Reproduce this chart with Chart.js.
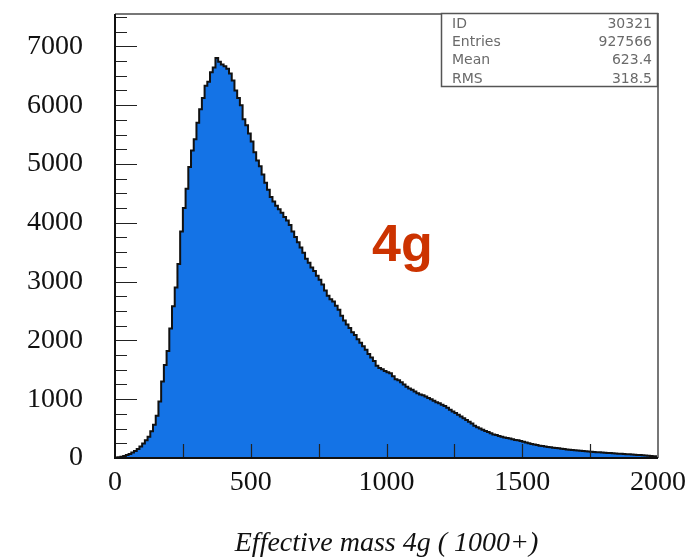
<!DOCTYPE html>
<html>
<head>
<meta charset="utf-8">
<script src="https://cdn.jsdelivr.net/npm/chart.js@4.4.1/dist/chart.umd.min.js"></script>
<style>
  html, body { margin: 0; padding: 0; background: #fff; }
  #wrap { width: 700px; height: 558px; }
</style>
</head>
<body>
<div id="wrap"><canvas id="ch"></canvas></div>
<script>
// histogram: 200 bins of width 10 from 0 to 2000
const binStart = 0;
const binWidth = 10;
const counts = [
  4, 8, 14, 22, 34, 50, 70, 95, 120, 155, 195, 245, 300, 360, 455, 565, 720, 960, 1300, 1580,
  1820, 2200, 2580, 2900, 3300, 3850, 4250, 4580, 4950, 5230, 5420, 5700, 5930, 6120, 6330, 6400, 6560, 6640, 6800, 6740,
  6690, 6660, 6620, 6540, 6420, 6250, 6120, 6000, 5760, 5660, 5520, 5380, 5200, 5060, 4960, 4820, 4680, 4560, 4440, 4360,
  4290, 4230, 4170, 4100, 4040, 3960, 3850, 3760, 3670, 3580, 3490, 3390, 3320, 3240, 3180, 3100, 3030, 2950, 2850, 2760,
  2700, 2660, 2590, 2520, 2420, 2340, 2270, 2210, 2140, 2090, 2020, 1960, 1900, 1840, 1770, 1710, 1650, 1570, 1530, 1510,
  1480, 1460, 1440, 1390, 1340, 1320, 1290, 1250, 1210, 1180, 1160, 1130, 1100, 1080, 1065, 1045, 1020, 1000, 975, 950,
  930, 905, 885, 855, 820, 790, 765, 735, 705, 675, 645, 615, 585, 550, 525, 500, 480, 460, 440, 420,
  400, 390, 375, 360, 350, 340, 330, 318, 308, 300, 290, 278, 262, 252, 240, 228, 220, 210, 202, 195,
  188, 182, 176, 170, 164, 158, 152, 146, 140, 136, 131, 127, 122, 118, 113, 110, 106, 103, 99, 96,
  92, 89, 86, 83, 80, 77, 74, 71, 68, 65, 62, 59, 56, 53, 50, 46, 42, 38, 34, 30
];

const xTicks = [0, 500, 1000, 1500, 2000];
const yTicks = [0, 1000, 2000, 3000, 4000, 5000, 6000, 7000];
const xMax = 2000;
const yMax = 7550;

const statLabels = ['ID', 'Entries', 'Mean', 'RMS'];
const statValues = ['30321', '927566', '623.4', '318.5'];
const tagText = '4g';
const xTitle = 'Effective mass 4g ( 1000+)';

const points = counts.map((c, i) => ({ x: binStart + i * binWidth, y: c }));
points.push({ x: binStart + counts.length * binWidth, y: counts[counts.length - 1] });

// frame, inner ticks, stats box and the "4g" tag
const decor = {
  id: 'decor',
  afterDraw(chart) {
    const { ctx, chartArea: a, scales: { x, y } } = chart;
    ctx.save();

    ctx.strokeStyle = '#222';
    ctx.lineWidth = 1.2;
    ctx.beginPath();
    for (let v = 250; v < yMax; v += 250) {
      const py = Math.round(y.getPixelForValue(v)) + 0.5;
      const len = v % 1000 === 0 ? 22 : 12;
      ctx.moveTo(a.left, py); ctx.lineTo(a.left + len, py);
    }
    for (let v = 250; v < xMax; v += 250) {
      const px = Math.round(x.getPixelForValue(v)) + 0.5;
      ctx.moveTo(px, a.bottom); ctx.lineTo(px, a.bottom - 14);
    }
    ctx.stroke();

    // frame
    ctx.strokeStyle = '#777';
    ctx.lineWidth = 2;
    ctx.beginPath();
    ctx.moveTo(a.left, a.top); ctx.lineTo(a.right, a.top); ctx.lineTo(a.right, a.bottom);
    ctx.stroke();
    ctx.strokeStyle = '#111';
    ctx.beginPath();
    ctx.moveTo(a.left, a.top); ctx.lineTo(a.left, a.bottom); ctx.lineTo(a.right, a.bottom);
    ctx.stroke();

    // stats box
    const bx = 441, by = 13, bw = 216, bh = 73;
    ctx.fillStyle = '#fff';
    ctx.fillRect(bx, by, bw, bh);
    ctx.strokeStyle = '#555';
    ctx.lineWidth = 1.5;
    ctx.strokeRect(bx + 0.5, by + 0.5, bw, bh);
    ctx.font = '14px "DejaVu Sans", sans-serif';
    ctx.fillStyle = '#6a6a6a';
    ctx.textBaseline = 'middle';
    statLabels.forEach((lab, i) => {
      const ry = by + 11 + i * 18.4;
      ctx.textAlign = 'left';
      ctx.fillText(lab, bx + 11, ry);
      ctx.textAlign = 'right';
      ctx.fillText(statValues[i], bx + bw - 5, ry);
    });

    // tag
    ctx.font = 'bold 52px "Liberation Sans", Arial, sans-serif';
    ctx.fillStyle = '#cc3300';
    ctx.textAlign = 'left';
    ctx.textBaseline = 'alphabetic';
    ctx.fillText(tagText, 372, 261);

    ctx.restore();
  }
};

const serif = '"Liberation Serif", "Times New Roman", serif';

new Chart(document.getElementById('ch'), {
  type: 'line',
  data: {
    datasets: [{
      data: points,
      stepped: 'after',
      fill: 'origin',
      backgroundColor: '#1473e6',
      borderColor: '#111',
      borderWidth: 2,
      pointRadius: 0,
    }]
  },
  options: {
    responsive: true,
    maintainAspectRatio: false,
    animation: false,
    layout: { padding: { top: 14, right: 42, left: 0, bottom: 0 } },
    plugins: { legend: { display: false }, tooltip: { enabled: false } },
    scales: {
      x: {
        type: 'linear', min: 0, max: xMax,
        afterBuildTicks: s => { s.ticks = xTicks.map(v => ({ value: v })); },
        afterFit: s => { s.height = 100; s.paddingLeft = 0; s.paddingRight = 0; },
        grid: { display: false, drawTicks: false },
        border: { display: false },
        ticks: {
          padding: 8, maxRotation: 0, autoSkip: false, color: '#111',
          callback: v => String(v),
          font: { family: serif, size: 28 }
        },
        title: {
          display: true, text: xTitle, color: '#111',
          padding: { top: 0, bottom: 0 },
          font: { family: serif, size: 28, style: 'italic', lineHeight: 1.0 }
        }
      },
      y: {
        type: 'linear', min: 0, max: yMax,
        afterBuildTicks: s => { s.ticks = yTicks.map(v => ({ value: v })); },
        afterFit: s => { s.width = 115; s.paddingTop = 0; s.paddingBottom = 0; },
        grid: { display: false, drawTicks: false },
        border: { display: false },
        ticks: {
          padding: 32, autoSkip: false, color: '#111',
          callback: v => String(v),
          font: { family: serif, size: 28 }
        }
      }
    }
  },
  plugins: [decor]
});
</script>
</body>
</html>
